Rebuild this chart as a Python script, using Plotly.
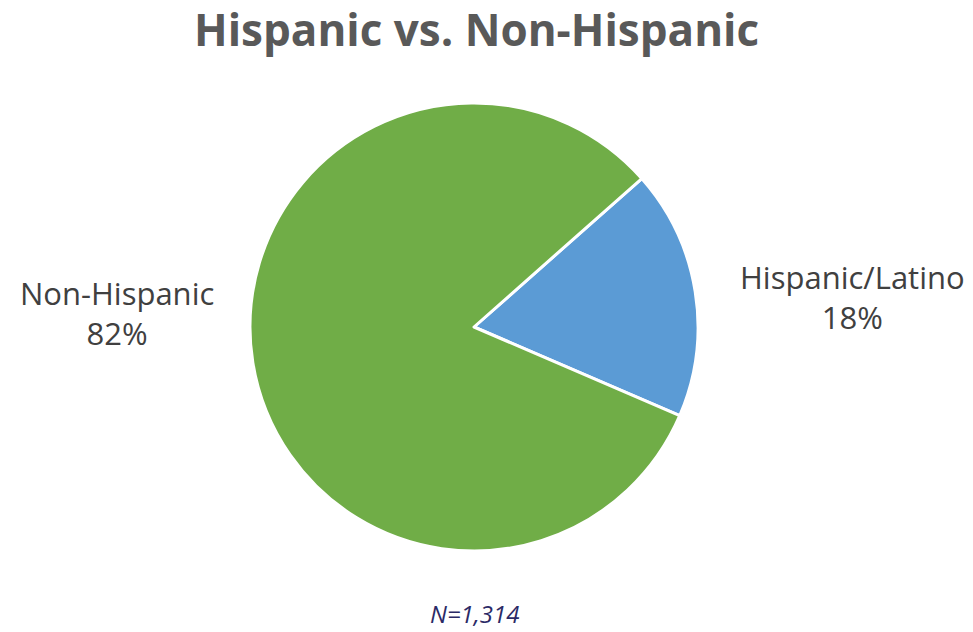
import plotly.graph_objects as go

# Ethnicity breakdown of respondents
categories = ["Hispanic/Latino", "Non-Hispanic"]
shares = [18, 82]
colors = ["#5B9BD5", "#70AD47"]
sample_label = "N=1,314"
title_text = "Hispanic vs. Non-Hispanic"

W, H = 973, 632
cx, cy, r = 474, 327, 224

fig = go.Figure(
    go.Pie(
        labels=categories,
        values=shares,
        sort=False,
        direction="clockwise",
        rotation=48.5,
        marker=dict(colors=colors, line=dict(color="white", width=3)),
        textinfo="none",
        hoverinfo="label+percent",
        showlegend=False,
        domain=dict(x=[(cx - r) / W, (cx + r) / W], y=[1 - (cy + r) / H, 1 - (cy - r) / H]),
    )
)

label_font = dict(family="Open Sans, sans-serif", size=31, color="#404040")
label_pos = {
    "Non-Hispanic": (117, 313),
    "Hispanic/Latino": (852, 297),
}
for name, val in zip(categories, shares):
    x, y = label_pos[name]
    fig.add_annotation(
        x=x / W, y=1 - y / H, xref="paper", yref="paper",
        text=f"{name}<br>{val}%", showarrow=False,
        font=label_font, align="center", xanchor="center", yanchor="middle",
    )

fig.add_annotation(
    x=474 / W, y=1 - 613 / H, xref="paper", yref="paper",
    text=f"<i>{sample_label}</i>", showarrow=False,
    font=dict(family="Open Sans, sans-serif", size=24, color="#2B2A66"),
    xanchor="center", yanchor="middle", borderpad=0,
)

fig.add_annotation(
    x=476 / W, y=1 - 29 / H, xref="paper", yref="paper",
    text=f"<b>{title_text}</b>", showarrow=False,
    font=dict(family="Open Sans, sans-serif", size=44, color="#595959"),
    xanchor="center", yanchor="middle",
)

fig.update_layout(
    width=W, height=H,
    margin=dict(l=0, r=0, t=0, b=0),
    paper_bgcolor="white", plot_bgcolor="white",
)

fig.write_html("out.html")
